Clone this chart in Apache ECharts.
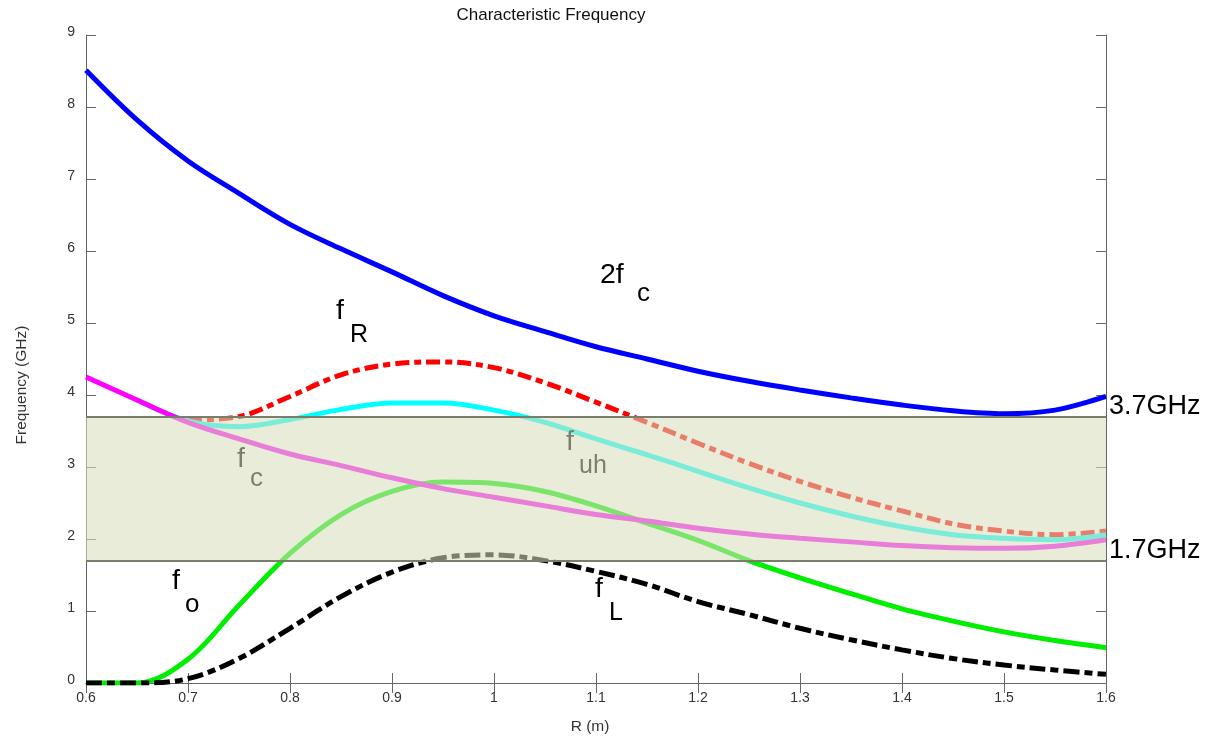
<!DOCTYPE html>
<html>
<head>
<meta charset="utf-8">
<script src="https://cdn.jsdelivr.net/npm/echarts@6/dist/echarts.min.js"></script>
<style>html,body{margin:0;padding:0;background:#fff;}#c{width:1230px;height:739px;}</style>
</head>
<body>
<div id="c"></div>
<script>
// R (m)
const R = [0.6,0.65,0.7,0.75,0.8,0.85,0.9,0.95,1.0,1.05,1.1,1.15,1.2,1.25,1.3,1.35,1.4,1.45,1.5,1.55,1.6];
// 2 f_c
const f2c = [8.51,7.82,7.25,6.80,6.37,6.03,5.71,5.38,5.10,4.88,4.67,4.50,4.33,4.19,4.07,3.96,3.86,3.78,3.74,3.79,3.98];
// f_o
const fo = [0,0,0.33,1.08,1.80,2.34,2.66,2.79,2.77,2.66,2.46,2.22,1.98,1.70,1.46,1.24,1.03,0.86,0.71,0.59,0.49];
// f_L
const fL = [0,0,0.06,0.34,0.76,1.20,1.54,1.74,1.78,1.70,1.55,1.37,1.13,0.95,0.76,0.60,0.46,0.34,0.25,0.18,0.12];
// f_uh (hidden under f_c at the left end)
const fuh = [null,3.93,3.64,3.56,3.66,3.80,3.89,3.89,3.79,3.62,3.39,3.17,2.94,2.71,2.50,2.32,2.17,2.06,2.01,1.99,2.06];
// f_R (hidden under f_c at the left end)
const fR = [null,null,3.65,3.70,3.98,4.28,4.43,4.46,4.38,4.17,3.90,3.62,3.33,3.05,2.80,2.58,2.39,2.21,2.11,2.06,2.11];
// f_c
const fc = [4.25,3.93,3.62,3.39,3.18,3.02,2.85,2.70,2.58,2.46,2.34,2.25,2.15,2.07,2.01,1.96,1.91,1.88,1.87,1.90,1.99];
// band limits (GHz)
const bandLow = 1.7, bandHigh = 3.7;
const bandLabels = ['1.7GHz','3.7GHz'];
const xTicks = {min:0.6, max:1.6, interval:0.1};
const yTicks = {min:0, max:9, interval:1};

const pair = arr => R.map((r,i)=>[r,arr[i]]);
const FF = '"Liberation Sans", Arial, sans-serif';
const chart = echarts.init(document.getElementById('c'), null, {renderer:'canvas'});

function lineSeries(name, data, color, type, z){
  return {name, type:'line', data:pair(data), showSymbol:false, smooth:0.35, z:z, connectNulls:false,
    lineStyle:{color, width:5, type:type||'solid', cap:'butt'}, animation:false};
}
const axisLineStyle = {color:'#666', width:1};
const lbl = (t,x,y,size,color)=>({type:'text', x, y, z:5,
  style:{text:t, fontSize:size, fontFamily:FF, fill:color||'#000', align:'left', verticalAlign:'middle'}});

chart.setOption({
  animation:false,
  backgroundColor:'#fff',
  grid:{left:86, right:124, top:35, bottom:56},
  xAxis:[
    {type:'value', min:xTicks.min, max:xTicks.max, interval:xTicks.interval, position:'bottom',
     axisLine:{show:true, lineStyle:axisLineStyle}, axisTick:{inside:true, length:10, lineStyle:axisLineStyle},
     axisLabel:{color:'#333', fontSize:14, fontFamily:FF, margin:8}, splitLine:{show:false}},
    {type:'value', min:xTicks.min, max:xTicks.max, interval:xTicks.interval, position:'top',
     axisLine:{show:true, lineStyle:axisLineStyle}, axisTick:{inside:true, length:10, lineStyle:axisLineStyle},
     axisLabel:{show:false}, splitLine:{show:false}}
  ],
  yAxis:[
    {type:'value', min:yTicks.min, max:yTicks.max, interval:yTicks.interval, position:'left',
     axisLine:{show:true, lineStyle:axisLineStyle}, axisTick:{inside:true, length:10, lineStyle:axisLineStyle},
     axisLabel:{color:'#333', fontSize:14, fontFamily:FF, margin:11, verticalAlign:'bottom', lineHeight:6}, splitLine:{show:false}},
    {type:'value', min:yTicks.min, max:yTicks.max, interval:yTicks.interval, position:'right',
     axisLine:{show:true, lineStyle:axisLineStyle}, axisTick:{inside:true, length:10, lineStyle:axisLineStyle},
     axisLabel:{show:false}, splitLine:{show:false}}
  ],
  graphic:[
    {type:'text', x:551, y:15, z:5, style:{text:'Characteristic Frequency', fontSize:17, fontFamily:FF, fill:'#111', align:'center', verticalAlign:'middle'}},
    {type:'text', x:590, y:727, z:5, style:{text:'R (m)', fontSize:15.5, fontFamily:FF, fill:'#333', align:'center', verticalAlign:'middle'}},
    {type:'text', x:22, y:385, rotation:Math.PI/2, z:5, style:{text:'Frequency (GHz)', fontSize:15.5, fontFamily:FF, fill:'#333', align:'center', verticalAlign:'middle'}},
    lbl('2f',600,275,28.5), lbl('c',637,294,26),
    lbl('f',336,311,28.5), lbl('R',350,335,25),
    lbl('f',237,459,28.5), lbl('c',250,479,26),
    lbl('f',566,442,28.5), lbl('uh',579,466,25),
    lbl('f',172,581,28.5), lbl('o',185,605,26),
    lbl('f',595,589,28.5), lbl('L',609,613,25)
  ],
  series:[
    lineSeries('2fc', f2c, '#0000ff', 'solid', 2),
    lineSeries('fo', fo, '#00ee00', 'solid', 2),
    lineSeries('fL', fL, '#000000', [16,5,8,5], 2),
    lineSeries('fR', fR, '#ff0000', [14,5,7,5], 2),
    lineSeries('fuh', fuh, '#00ffff', 'solid', 2),
    lineSeries('fc', fc, '#ff00ff', 'solid', 2),
    {name:'band', type:'line', data:[], z:10, silent:true,
     markArea:{silent:true, z:10, itemStyle:{color:'rgba(215,222,187,0.57)'},
       data:[[{yAxis:bandLow},{yAxis:bandHigh}]]},
     markLine:{silent:true, z:11, symbol:['none','none'], animation:false,
       lineStyle:{color:'#7a7d6c', width:2, type:'solid'},
       label:{show:true, position:'end', distance:3, fontSize:27, lineHeight:20, fontFamily:FF, color:'#000', verticalAlign:'bottom',
         formatter: p => p.value === bandLow ? bandLabels[0] : bandLabels[1]},
       data:[{yAxis:bandLow},{yAxis:bandHigh}]}
    }
  ]
});
</script>
</body>
</html>
